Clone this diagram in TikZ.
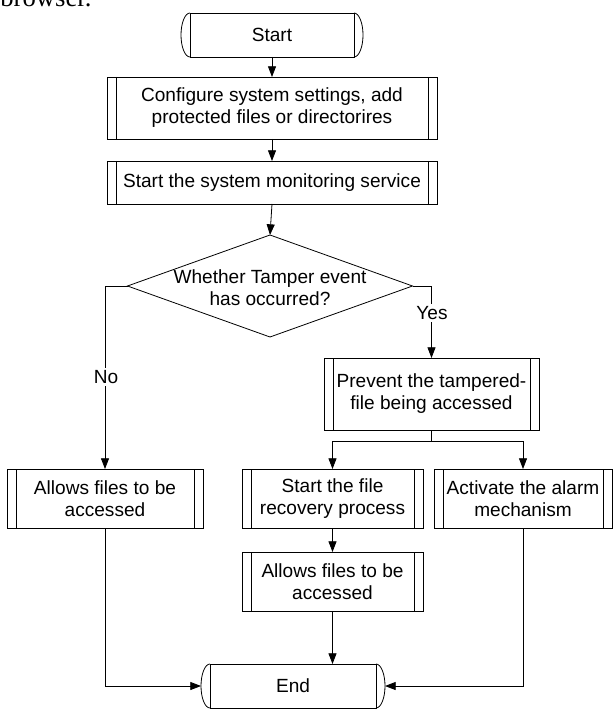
\documentclass[tikz,border=0pt]{standalone}
\usepackage{fontspec}
\setmainfont{Liberation Sans}
\newfontfamily\bodyserif{Liberation Serif}
\usetikzlibrary{arrows.meta,shapes.geometric}

\begin{document}
\begin{tikzpicture}[x=0.75pt,y=-0.75pt,line width=0.6pt,
  every node/.style={font=\fontsize{14.3pt}{16.5pt}\selectfont},
  proc/.style={draw, rectangle, fill=white, align=center, inner sep=2pt, outer sep=0pt,
    path picture={\draw[line width=0.6pt]
      ([xshift=6.75pt]path picture bounding box.north west) -- ([xshift=6.75pt]path picture bounding box.south west)
      ([xshift=-6.75pt]path picture bounding box.north east) -- ([xshift=-6.75pt]path picture bounding box.south east);}},
  term/.style={draw, rectangle, fill=white, align=center, inner sep=2pt, outer sep=0pt},
  decision/.style={draw, diamond, inner sep=0pt, outer sep=0pt, minimum width=213.75pt, minimum height=76.5pt},
  arr/.style={-{Triangle[length=8pt,width=6pt]}},
  lbl/.style={fill=white, inner sep=1.5pt}
]
% page frame
\fill[white] (0,0) rectangle (613,709);
\useasboundingbox (0,0) rectangle (613,709);

% tail of the preceding paragraph
\node[anchor=base west, inner sep=0pt, font=\bodyserif\fontsize{20pt}{24pt}\selectfont] (prevline) at (0,7) {browser.};

% terminals
\node[term, minimum width=123pt, minimum height=33pt] (start) at (272,35) {Start};
\draw (start.north west) arc[start angle=90,end angle=270,x radius=6.75pt,y radius=16.5pt];
\draw (start.north east) arc[start angle=90,end angle=-90,x radius=6.75pt,y radius=16.5pt];

\node[term, minimum width=124.5pt, minimum height=33pt] (end) at (293,686) {End};
\draw (end.north west) arc[start angle=90,end angle=270,x radius=6.75pt,y radius=16.5pt];
\draw (end.north east) arc[start angle=90,end angle=-90,x radius=6.75pt,y radius=16.5pt];

% process steps
\node[proc, minimum width=247.5pt, minimum height=46.5pt] (config) at (272,108)
  {Configure system settings, add\\protected files or directorires};
\node[proc, minimum width=247.5pt, minimum height=32.25pt] (monitor) at (272,182.5)
  {Start the system monitoring service};
\node[decision] (dec) at (270,286) {};
\node[align=center, inner sep=0pt] (dectext) at (270,288) {Whether Tamper event\\has occurred?};
\node[proc, minimum width=161.25pt, minimum height=54pt] (prevent) at (431.5,394)
  {Prevent the tampered-\\file being accessed};
\node[proc, minimum width=147pt, minimum height=44.25pt] (allowL) at (105,498.5)
  {Allows files to be\\accessed};
\node[proc, minimum width=135.75pt, minimum height=44.25pt] (recov) at (332.5,498.5)
  {Start the file\\recovery process};
\node[proc, minimum width=133.5pt, minimum height=44.25pt] (alarm) at (523,498.5)
  {Activate the alarm\\mechanism};
\node[proc, minimum width=135.75pt, minimum height=44.25pt] (allowR) at (332.5,581.5)
  {Allows files to be\\accessed};

% connectors
\draw[arr] (start) -- (config);
\draw[arr] (config) -- (monitor);
\draw[arr] (monitor.south) -- (dec.north);
\draw[arr] (dec.east) -| (prevent.north);
\draw[arr] (dec.west) -| (allowL.north);
\draw (prevent.south) -- ++(0,11) coordinate (split);
\draw[arr] (split) -| (recov.north);
\draw[arr] (split) -| (alarm.north);
\draw[arr] (recov) -- (allowR);
\draw[arr] (allowR.south) -- (allowR.south |- end.north);
\draw[arr] (allowL.south) |- ([xshift=-6.75pt]end.west);
\draw[arr] (alarm.south) |- ([xshift=6.75pt]end.east);

% branch labels
\node[lbl] (yes) at (432,313) {Yes};
\node[lbl] (no) at (106,377) {No};
\end{tikzpicture}
\end{document}
